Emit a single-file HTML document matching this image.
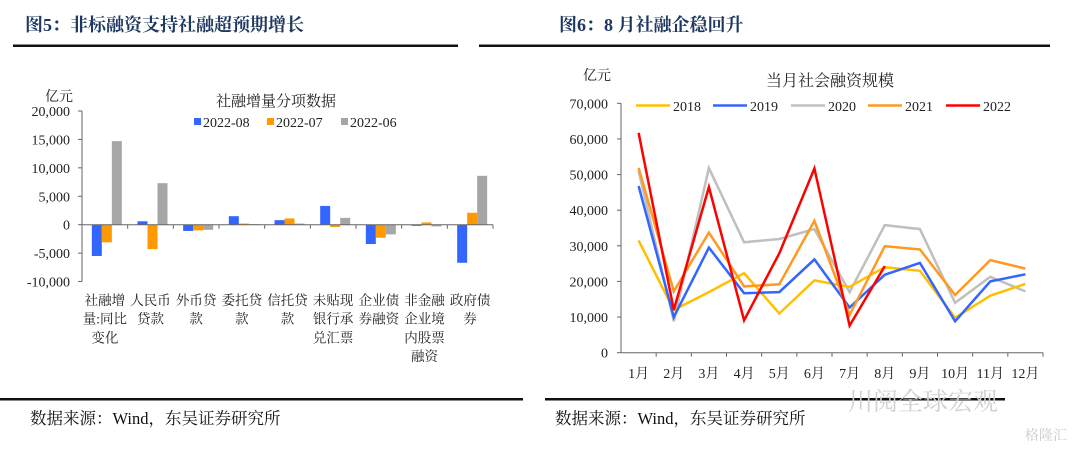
<!DOCTYPE html>
<html><head><meta charset="utf-8"><style>
body{margin:0;background:#fff;}
svg{display:block;font-family:"Liberation Serif","Noto Serif CJK SC",serif;}
</style></head><body>
<svg id="s" width="1080" height="449">
<text x="25" y="31" font-size="18" font-weight="bold" fill="#1f3860">图5：非标融资支持社融超预期增长</text>
<rect x="13" y="44.5" width="445" height="2.5" fill="#111"/>
<text x="559" y="31" font-size="18" font-weight="bold" fill="#1f3860">图6：8 月社融企稳回升</text>
<rect x="479" y="44.5" width="571" height="2.5" fill="#111"/>
<rect x="0" y="398" width="523" height="2.5" fill="#111"/>
<rect x="545" y="398" width="460" height="2.5" fill="#111"/>
<text x="30" y="424" font-size="16.5" fill="#111">数据来源：Wind，东吴证券研究所</text>
<text x="555" y="424" font-size="16.5" fill="#111">数据来源：Wind，东吴证券研究所</text>
<text x="848" y="410" font-size="25" fill="#d0d0d0">川阅全球宏观</text>
<text x="1025" y="440" font-size="14" fill="#ccc">格隆汇</text>
<g id="left"></g>
<g id="right"></g>
</svg>
<script>
const barCats=[["社融增","量:同比","变化"],["人民币","贷款"],["外币贷","款"],["委托贷","款"],["信托贷","款"],["未贴现","银行承","兑汇票"],["企业债","券融资"],["非金融","企业境","内股票","融资"],["政府债","券"]];
const barSeriesNames=["2022-08","2022-07","2022-06"];
const bar2208=[-5500,600,-1100,1500,800,3300,-3400,-200,-6700];
const bar2207=[-3100,-4300,-1000,200,1100,-400,-2300,400,2100];
const bar2206=[14700,7300,-900,100,200,1200,-1700,-300,8600];
const barTicks=[20000,15000,10000,5000,0,-5000,-10000];

const months=["1月","2月","3月","4月","5月","6月","7月","8月","9月","10月","11月","12月"];
const lineNames=["2018","2019","2020","2021","2022"];
const y2018=[31500,12000,17000,22300,11000,20300,18500,24000,23000,9800,16000,19300];
const y2019=[46800,10000,29500,16700,17000,26200,12700,21900,25200,8800,20000,22000];
const y2020=[51000,8800,51800,31000,31900,34700,17000,35800,34700,14000,21300,17200];
const y2021=[51900,17200,33700,18600,19200,37000,10600,29900,29000,16200,26000,23600];
const y2022=[61700,12000,46500,9100,27900,51700,7600,24300];
const lineTicks=[70000,60000,50000,40000,30000,20000,10000,0];

const NS="http://www.w3.org/2000/svg";
function mk(p,t,a,txt){const e=document.createElementNS(NS,t);for(const k in a)e.setAttribute(k,a[k]);if(txt!==undefined)e.textContent=txt;p.appendChild(e);return e;}

// left chart
const L=document.getElementById('left');
const lx0=82,lx1=493,ly=v=>224.7-v*(113.7/20000);
const bw=(lx1-lx0)/barCats.length;
const barColors=["#3366ff","#ff9900","#a6a6a6"];
const barSeries=[bar2208,bar2207,bar2206];
let e;
e=mk(L,'line',{x1:lx0,y1:ly(20000),x2:lx0,y2:ly(-10000),stroke:'#666'});


barTicks.forEach(t=>{
 e=mk(L,'line',{x1:lx0-4,y1:ly(t),x2:lx0,y2:ly(t),stroke:'#666'});
 
 
 e=mk(L,'text',{x:lx0-12,y:ly(t)+5,'font-size':14,'text-anchor':'end',fill:'#222'},t.toLocaleString('en-US'));
 
 
});
barCats.forEach((c,i)=>{
 const cx=lx0+bw*(i+0.5);
 barSeries.forEach((s,j)=>{
  const v=s[i];const y0=ly(0),y1=ly(v);
  e=mk(L,'rect',{x:cx-13+j*10,y:Math.min(y0,y1),width:10,height:Math.max(0.5,Math.abs(y1-y0)),fill:barColors[j]});
  
  
 });
 e=mk(L,'line',{x1:lx0+bw*(i+1),y1:ly(0),x2:lx0+bw*(i+1),y2:ly(0)+4,stroke:'#666'});
 
 
 c.forEach((ln,k)=>{
  e=mk(L,'text',{x:cx,y:305+k*18.7,'font-size':13.5,'text-anchor':'middle',fill:'#222'},ln);
  
  
 });
});
e=mk(L,'line',{x1:lx0,y1:ly(0),x2:lx1,y2:ly(0),stroke:'#666'});


e=mk(L,'text',{x:45,y:101,'font-size':14,fill:'#222'},'亿元');


e=mk(L,'text',{x:276,y:106,'font-size':15,'text-anchor':'middle',fill:'#222'},'社融增量分项数据');


const legX=[194,267,341];
barSeriesNames.forEach((n,j)=>{
 e=mk(L,'rect',{x:legX[j],y:118,width:7,height:7,fill:barColors[j]});
 
 
 e=mk(L,'text',{x:legX[j]+9,y:127,'font-size':14,fill:'#222'},n);
 
 
});

// right chart
const R=document.getElementById('right');
const rx0=621,rx1=1043,ry=v=>352.7-v*(249.4/70000);
const cw=(rx1-rx0)/months.length;
const lineColors=["#ffc000","#3366ff","#bfbfbf","#ff9922","#ff0000"];
const lineSeries=[y2018,y2019,y2020,y2021,y2022];
e=mk(R,'line',{x1:rx0,y1:ry(70000),x2:rx0,y2:ry(0),stroke:'#666'});


lineTicks.forEach(t=>{
 e=mk(R,'line',{x1:rx0-4,y1:ry(t),x2:rx0,y2:ry(t),stroke:'#666'});
 
 
 e=mk(R,'text',{x:rx0-13,y:ry(t)+5,'font-size':14,'text-anchor':'end',fill:'#222'},t.toLocaleString('en-US'));
 
 
});
e=mk(R,'line',{x1:rx0,y1:ry(0),x2:rx1,y2:ry(0),stroke:'#666'});


months.forEach((m,i)=>{
 e=mk(R,'line',{x1:rx0+cw*(i+1),y1:ry(0),x2:rx0+cw*(i+1),y2:ry(0)+4,stroke:'#666'});
 
 
 e=mk(R,'text',{x:rx0+cw*(i+0.5),y:378,'font-size':14,'text-anchor':'middle',fill:'#222'},m);
 
 
});
[2,0,1,3,4].forEach(j=>{
 const pts=lineSeries[j].map((v,i)=>(rx0+cw*(i+0.5)).toFixed(1)+','+ry(v).toFixed(1)).join(' ');
 e=mk(R,'polyline',{points:pts,fill:'none',stroke:lineColors[j],'stroke-width':2.5,'stroke-linejoin':'miter'});
 
 
});
e=mk(R,'text',{x:583,y:80,'font-size':14,fill:'#222'},'亿元');


e=mk(R,'text',{x:830,y:86,'font-size':16,'text-anchor':'middle',fill:'#222'},'当月社会融资规模');


const rlx=[636,713,791,868,946];
lineNames.forEach((n,j)=>{
 e=mk(R,'line',{x1:rlx[j],y1:105.5,x2:rlx[j]+34,y2:105.5,stroke:lineColors[j],'stroke-width':2.5});
 
 
 e=mk(R,'text',{x:rlx[j]+37,y:111,'font-size':14,fill:'#222'},n);
 
 
});
</script>
</body></html>
